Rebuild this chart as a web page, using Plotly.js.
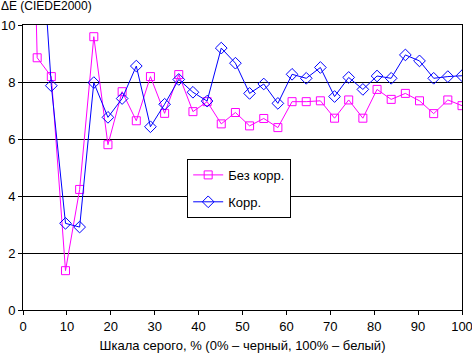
<!DOCTYPE html>
<html><head><meta charset="utf-8">
<script src="https://cdn.plot.ly/plotly-3.0.1.min.js"></script>
<style>body{margin:0;padding:0;background:#fff}#c{width:472px;height:353px}</style>
</head><body><div id="c"></div>
<script>
// Grey-scale levels (%), 32 steps from 0 to 100
const greyLevels = [0, 3.23, 6.45, 9.68, 12.9, 16.13, 19.35, 22.58, 25.81, 29.03, 32.26, 35.48, 38.71, 41.94, 45.16, 48.39, 51.61, 54.84, 58.06, 61.29, 64.52, 67.74, 70.97, 74.19, 77.42, 80.65, 83.87, 87.1, 90.32, 93.55, 96.77, 100];
const noCorr = [30, 8.85, 8.19, 1.38, 4.23, 9.59, 5.80, 7.66, 6.64, 8.19, 6.90, 8.26, 6.96, 7.31, 6.53, 6.93, 6.46, 6.72, 6.40, 7.31, 7.31, 7.34, 6.73, 7.37, 6.73, 7.74, 7.39, 7.60, 7.34, 6.89, 7.37, 7.17];
const withCorr = [30, 15.4, 7.87, 3.04, 2.91, 7.98, 6.76, 7.42, 8.56, 6.43, 7.22, 8.09, 7.64, 7.33, 9.19, 8.66, 7.60, 7.93, 7.25, 8.27, 8.13, 8.51, 7.49, 8.16, 7.74, 8.21, 8.13, 8.95, 8.74, 8.13, 8.19, 8.22];
const seriesNames = ["Без корр.", "Корр."];
const xTickVals = [0, 10, 20, 30, 40, 50, 60, 70, 80, 90, 100];
const yTickVals = [0, 2, 4, 6, 8, 10];

const font = {family: "Liberation Sans, Arial, sans-serif", size: 13, color: "#000"};
const titleFont = {family: "Liberation Sans, Arial, sans-serif", size: 12, color: "#000"};
const traces = [
  {x: greyLevels, y: noCorr, name: seriesNames[0], type: "scatter", mode: "lines+markers",
   legendgroup: "a",
   line: {color: "#FF00FF", width: 1},
   marker: {symbol: "square-open", size: 8, color: "#FF00FF", line: {width: 1}}},
  {x: greyLevels, y: withCorr, name: seriesNames[1], type: "scatter", mode: "lines+markers",
   legendgroup: "b",
   line: {color: "#0000FF", width: 1},
   marker: {symbol: "diamond-open", size: 9, color: "#0000FF", line: {width: 1}}}
];
const layout = {
  width: 472, height: 353,
  margin: {l: 23, r: 10, t: 25, b: 43, pad: 0},
  paper_bgcolor: "#fff", plot_bgcolor: "#fff",
  font: font,
  showlegend: true,
  title: {text: "ΔE (CIEDE2000)", font: titleFont, xref: "container", x: 0.002, xanchor: "left",
          yref: "container", y: 0.995, yanchor: "top"},
  xaxis: {range: [0, 100], tickvals: xTickVals, ticks: "outside", ticklen: 4, tickcolor: "#000",
          ticklabeloverflow: "allow", automargin: false,
          showgrid: false, zeroline: false, showline: true, linecolor: "#000", linewidth: 1, mirror: true,
          fixedrange: true,
          title: {text: "Шкала серого, % (0% – черный, 100% – белый)", font: font, standoff: 8}},
  yaxis: {range: [0, 10], tickvals: yTickVals, ticks: "outside", ticklen: 4, tickcolor: "#000",
          automargin: false,
          showgrid: true, gridcolor: "#000", gridwidth: 1, zeroline: false,
          showline: true, linecolor: "#000", linewidth: 1, mirror: true, fixedrange: true},
  legend: {x: 0.374, xanchor: "left", y: 0.53, yanchor: "top", bgcolor: "#fff",
           bordercolor: "#000", borderwidth: 1, traceorder: "grouped", tracegroupgap: 7,
           font: font}
};
Plotly.newPlot("c", traces, layout, {staticPlot: true, displayModeBar: false});
</script></body></html>
